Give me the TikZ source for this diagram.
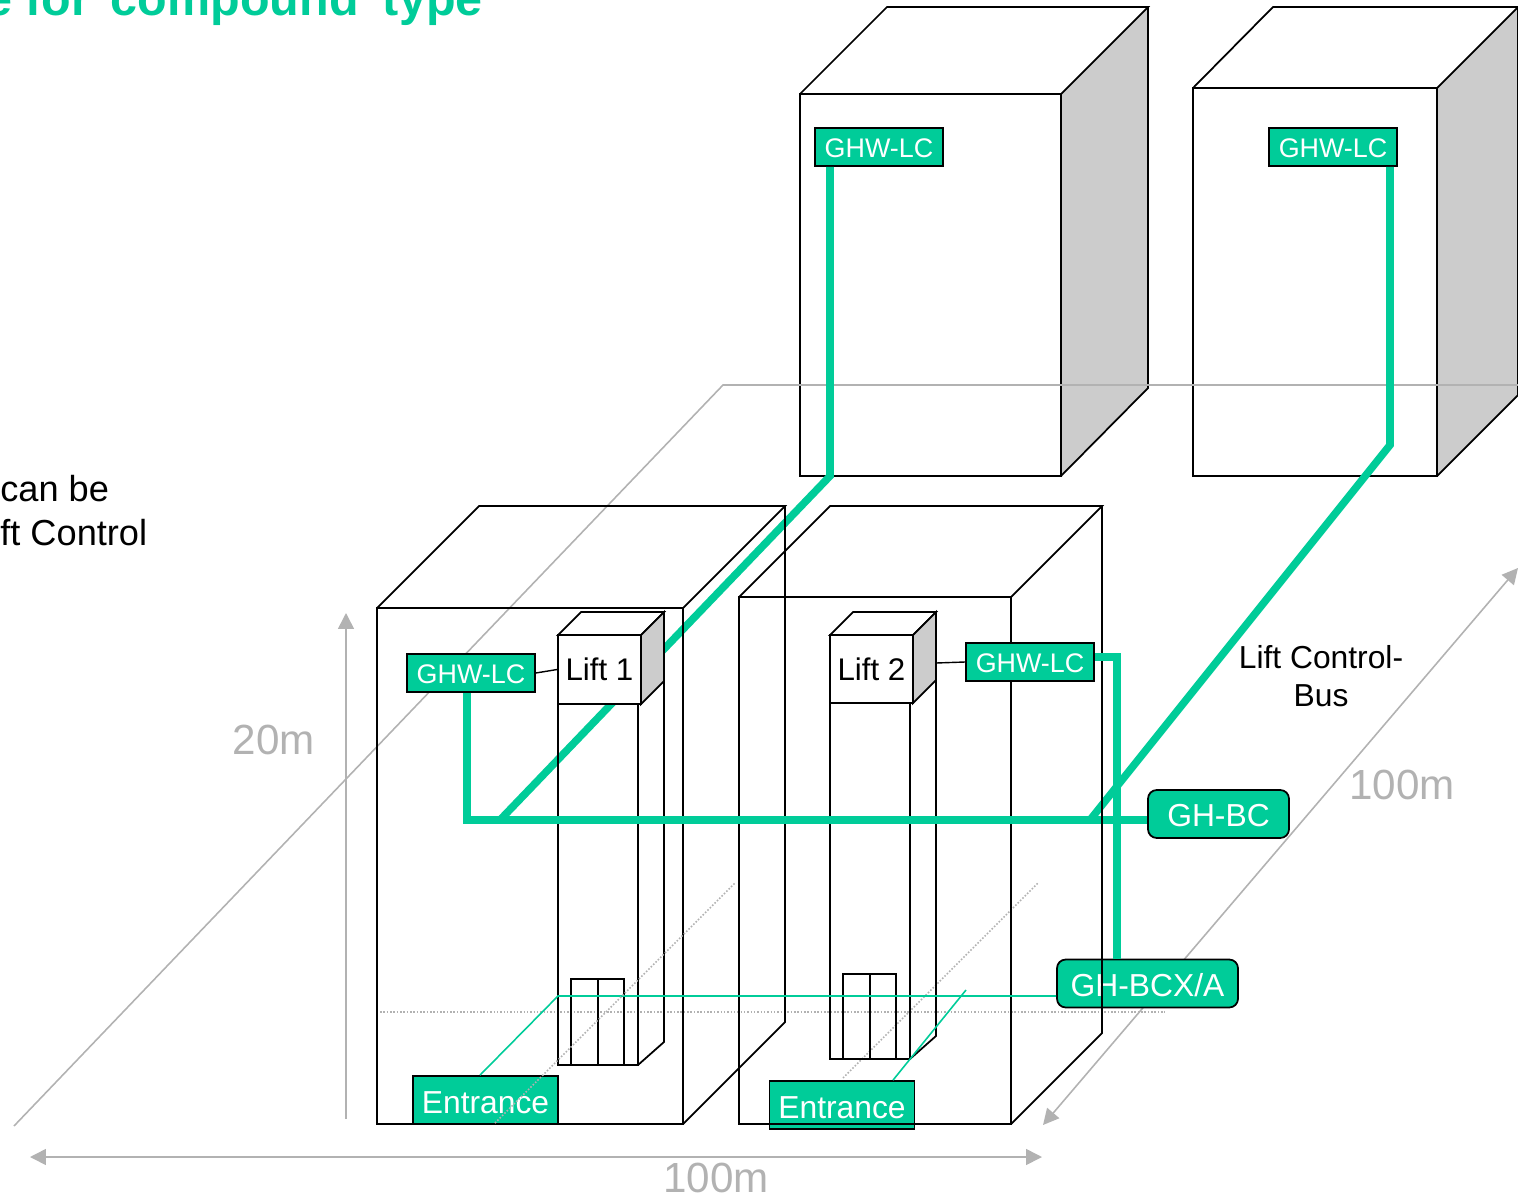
\documentclass[tikz,border=0pt]{standalone}
\usepackage{fontspec}
\usepackage{color}
\setmainfont{Liberation Sans}
\usetikzlibrary{arrows.meta}
\definecolor{busgreen}{HTML}{00CC99}
\definecolor{dimgrey}{HTML}{B2B2B2}
\definecolor{sidegrey}{HTML}{CCCCCC}
\newcommand{\mypx}{*0.02cm}
\tikzset{
  wall/.style={draw=black,line width=1pt},
  bus/.style={draw=busgreen,line width=4.3pt},
  tap/.style={draw=busgreen,line width=0.9pt},
  dimline/.style={draw=dimgrey,line width=0.9pt},
  dimarrow/.style={dimline,arrows={-Triangle[length=9pt,width=9pt]}},
  floorline/.style={draw=dimgrey,line width=0.9pt,densely dotted},
  lcbox/.style={draw=black,fill=busgreen,text=white,line width=1pt,inner sep=0pt,minimum width=128\mypx,minimum height=38\mypx,text height=12pt,text depth=0pt,font=\fontsize{15.3pt}{18pt}\selectfont},
  entrybox/.style={draw=black,fill=busgreen,text=white,line width=1pt,inner sep=0pt,minimum width=145\mypx,minimum height=48\mypx,text height=15pt,text depth=0pt,font=\fontsize{18.1pt}{21pt}\selectfont},
  bcbox/.style={draw=black,fill=busgreen,text=white,line width=1pt,rounded corners=5pt,inner sep=0pt,minimum height=48\mypx,text height=14.5pt,text depth=0pt,font=\fontsize{18.1pt}{21pt}\selectfont},
  liftname/.style={inner sep=0pt,font=\fontsize{17.8pt}{20pt}\selectfont},
  dimlabel/.style={inner sep=0pt,text=dimgrey,font=\fontsize{24pt}{28pt}\selectfont},
  plain/.style={inner sep=0pt,font=\fontsize{18.1pt}{21.6pt}\selectfont},
  note/.style={anchor=base west,inner sep=0pt,font=\fontsize{20.6pt}{24pt}\selectfont}
}
\begin{document}
\begin{tikzpicture}[x=0.02cm,y=0.02cm]
  \clip (0,0) rectangle (1518,-1196);
  % left over text
  \node (title) [anchor=base east,inner sep=0pt,text=busgreen,font=\fontsize{27.6pt}{30pt}\selectfont\bfseries] at (483,-16) {e for\hskip 0.42em compound\hskip 0.5em type};
  \node (notea) [note] at (0,-501) {can be};
  \node (noteb) [note] at (0,-545) {ft Control};
  % back buildings
  \fill [sidegrey] (1061,-94) -- (1148,-7) -- (1148,-388) -- (1061,-476) -- cycle;
  \fill [sidegrey] (1437,-88) -- (1518,-7) -- (1518,-395) -- (1437,-476) -- cycle;
  \draw [wall] (800,-94) rectangle (1061,-476);
  \draw [wall] (800,-94) -- (887,-7) -- (1148,-7) -- (1061,-94);
  \draw [wall] (1148,-7) -- (1148,-388) -- (1061,-476);
  \draw [wall] (1193,-88) rectangle (1437,-476);
  \draw [wall] (1193,-88) -- (1273,-7) -- (1518,-7) -- (1437,-88);
  \draw [wall] (1518,-7) -- (1518,-395) -- (1437,-476);
  % ground
  \draw [dimline] (14,-1126) -- (723,-385) -- (1518,-385);
  \draw [dimarrow] (346,-1119) -- (346,-613);
  \draw [dimline,arrows={Triangle[length=9pt,width=9pt]-Triangle[length=9pt,width=9pt]}] (30,-1157) -- (1042,-1157);
  \draw [dimline,arrows={Triangle[length=9pt,width=9pt]-Triangle[length=9pt,width=9pt]}] (1043,-1125) -- (1518,-568);
  \draw [floorline] (380,-1012) -- (1165,-1012);
  \draw [floorline] (843,-1078) -- (1038,-883);
  % bus, first part
  \coordinate (bendl) at (830,-476);
  \coordinate (bendr) at (1390,-445);
  \coordinate (joinl) at (500,-820);
  \coordinate (joinr) at (1090,-820);
  \node (lca) [lcbox] at (879,-147) {GHW-LC};
  \node (lcb) [lcbox] at (1333,-147) {GHW-LC};
  \draw [bus] (lca.south -| bendl) -- (bendl) -- (joinl);
  \draw [bus] (lcb.south -| bendr) -- (bendr) -- (joinr);
  % front buildings
  \draw [wall] (377,-608) rectangle (683,-1124);
  \draw [wall] (377,-608) -- (479,-506) -- (785,-506) -- (683,-608);
  \draw [wall] (785,-506) -- (785,-1022) -- (683,-1124);
  \draw [wall] (739,-597) rectangle (1011,-1124);
  \draw [wall] (739,-597) -- (830,-506) -- (1102,-506) -- (1011,-597);
  \draw [wall] (1102,-506) -- (1102,-1033) -- (1011,-1124);
  % lift shafts
  \draw [wall] (558,-704) rectangle (638,-1065);
  \draw [wall] (664,-681) -- (664,-1042) -- (638,-1065);
  \draw [wall] (571,-979) rectangle (624,-1065);
  \draw [wall] (598,-979) -- (598,-1065);
  \draw [wall] (830,-703) rectangle (910,-1059);
  \draw [wall] (936,-680) -- (936,-1036) -- (910,-1059);
  \draw [wall] (843,-974) rectangle (896,-1059);
  \draw [wall] (870,-974) -- (870,-1059);
  % lift heads
  \node (lifta) [liftname,draw=black,line width=1pt,fill=white,minimum width=83\mypx,minimum height=69\mypx] at (599.5,-669.5) {Lift 1};
  \draw [wall,fill=white] (558,-635) -- (581,-612) -- (664,-612) -- (641,-635) -- cycle;
  \draw [wall,fill=sidegrey] (641,-635) -- (664,-612) -- (664,-681) -- (641,-704) -- cycle;
  \node (liftb) [liftname,draw=black,line width=1pt,fill=white,minimum width=83\mypx,minimum height=68\mypx] at (871.5,-669) {Lift 2};
  \draw [wall,fill=white] (830,-635) -- (853,-612) -- (936,-612) -- (913,-635) -- cycle;
  \draw [wall,fill=sidegrey] (913,-635) -- (936,-612) -- (936,-680) -- (913,-703) -- cycle;
  % boxes and bus, second part
  \node (lcc) [lcbox] at (471,-673) {GHW-LC};
  \node (lcd) [lcbox] at (1030,-662) {GHW-LC};
  \node (bc) [bcbox,minimum width=141\mypx] at (1218.5,-814) {GH-BC};
  \node (bcx) [bcbox,minimum width=181\mypx] at (1147.5,-983.5) {GH-BCX/A};
  \node (enta) [entrybox] at (485.5,-1100) {Entrance};
  \node (entb) [entrybox] at (842,-1105) {Entrance};
  \coordinate (cornl) at (467,-820);
  \coordinate (cornr) at (1117,-657);
  \coordinate (tapa) at (558,-996);
  \coordinate (tapb) at (966,-990);
  \draw [bus] (lcc.south -| cornl) -- (cornl) -- (bc.west |- cornl);
  \draw [bus] (lcd.east |- cornr) -- (cornr) -- (bcx.north -| cornr);
  \draw [tap] (enta.north -| 480,0) -- (tapa) -- (bcx.west |- tapa);
  \draw [tap] (entb.north -| 893,0) -- (tapb);
  \draw [draw=black,line width=0.8pt] (lcc.east) -- (lifta.west);
  \draw [draw=black,line width=0.8pt] (lcd.west) -- (936,-663);
  % lines that run over the boxes
  \draw [wall] (1102,-960) -- (1102,-1007);
  \draw [wall] (1102,-816) -- (1102,-824);
  \draw [wall] (770,-1124) -- (914,-1124);
  \draw [floorline] (495,-1123) -- (735,-883);
  % labels
  \node (hlabel) [dimlabel] at (274,-740) {20m};
  \node (wlabel) [dimlabel] at (716,-1178) {100m};
  \node (dlabel) [dimlabel] at (1402,-785) {100m};
  \node (buslabel) [plain,align=center] at (1321,-676) {Lift Control-\\Bus};
\end{tikzpicture}
\end{document}
